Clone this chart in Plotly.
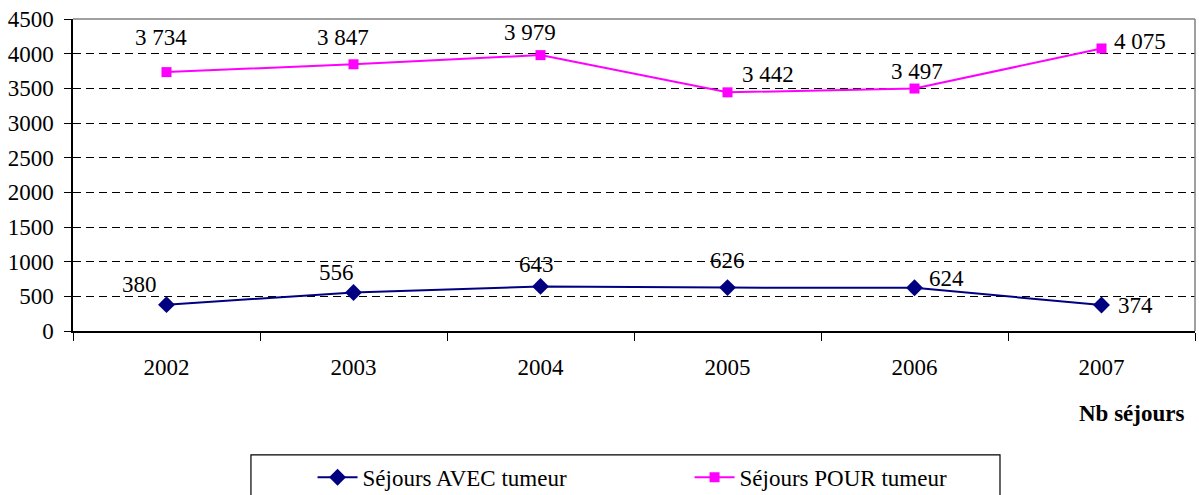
import plotly.graph_objects as go

years = ["2002", "2003", "2004", "2005", "2006", "2007"]
avec = [380, 556, 643, 626, 624, 374]
pour = [3734, 3847, 3979, 3442, 3497, 4075]
avec_labels = ["380", "556", "643", "626", "624", "374"]
pour_labels = ["3 734", "3 847", "3 979", "3 442", "3 497", "4 075"]
# label offsets (px) relative to the points
avec_off = [(-27, 20), (-17, 20), (-4, 22), (0, 27), (32, 9), (34, 0)]
pour_off = [(-6, 35), (-11, 27), (-11, 23), (40, 18), (2, 17), (38, 7)]

FONT = "'Liberation Serif', 'Times New Roman', Tinos, 'DejaVu Serif', serif"
NAVY = "#000080"
MAGENTA = "#FF00FF"
FS = 23

fig = go.Figure()
fig.add_trace(go.Scatter(
    x=years, y=avec, mode="lines+markers", name="Séjours AVEC tumeur",
    line=dict(color=NAVY, width=2),
    marker=dict(symbol="diamond", size=13, color=NAVY),
))
fig.add_trace(go.Scatter(
    x=years, y=pour, mode="lines+markers", name="Séjours POUR tumeur",
    line=dict(color=MAGENTA, width=2),
    marker=dict(symbol="square", size=10, color=MAGENTA),
))

annotations = []
for ys, labs, offs in [(avec, avec_labels, avec_off), (pour, pour_labels, pour_off)]:
    for i, (y, t, (dx, dy)) in enumerate(zip(ys, labs, offs)):
        annotations.append(dict(
            x=i, y=y, text=t, showarrow=False, xshift=dx, yshift=dy,
            font=dict(family=FONT, size=FS, color="black"),
            xanchor="center", yanchor="middle",
        ))
annotations.append(dict(
    x=0.992, y=-0.266, xref="paper", yref="paper", text="<b>Nb séjours</b>",
    showarrow=False, xanchor="right", yanchor="middle",
    font=dict(family=FONT, size=FS, color="black"),
))

shapes = [
    # gray top and right border of the plot area
    dict(type="line", xref="paper", yref="paper", x0=0, x1=1, y0=1, y1=1,
         line=dict(color="#808080", width=1.5)),
    dict(type="line", xref="paper", yref="paper", x0=1, x1=1, y0=0, y1=1,
         line=dict(color="#808080", width=1.5)),
    # legend box
    dict(type="rect", xref="paper", yref="paper", x0=0.1586, x1=0.8262,
         y0=-0.56, y1=-0.397, line=dict(color="black", width=1.2),
         fillcolor="rgba(0,0,0,0)"),
]

fig.update_layout(
    width=1199, height=495,
    margin=dict(l=73, r=4, t=19, b=164, autoexpand=False),
    paper_bgcolor="white", plot_bgcolor="white",
    font=dict(family=FONT, size=FS, color="black"),
    showlegend=True,
    legend=dict(
        orientation="h", x=0.2135, xanchor="left", y=-0.40, yanchor="top",
        bgcolor="rgba(0,0,0,0)", borderwidth=0,
        font=dict(family=FONT, size=FS, color="black"),
        entrywidth=322, entrywidthmode="pixels", itemwidth=40,
    ),
    annotations=annotations,
    shapes=shapes,
    xaxis=dict(
        type="category", categoryorder="array", categoryarray=years,
        range=[-0.5, 5.5], tickson="boundaries", ticks="outside", ticklen=8,
        tickcolor="black", showline=True, linecolor="black", linewidth=1.5,
        showgrid=False, tickfont=dict(family=FONT, size=FS), tickangle=0,
        ticklabelstandoff=15, fixedrange=True, automargin=False,
    ),
    yaxis=dict(
        range=[0, 4500], dtick=500, ticks="outside", ticklen=7,
        tickcolor="black", showline=True, linecolor="black", linewidth=1.5,
        showgrid=True, gridcolor="black", gridwidth=1, griddash="8px,5px",
        zeroline=False, tickfont=dict(family=FONT, size=FS),
        ticklabelstandoff=6, fixedrange=True, automargin=False,
    ),
)

fig.write_html(
    "out.html",
    config={"displayModeBar": False},
    post_script="document.body.style.margin='0';document.body.style.padding='0';",
)
